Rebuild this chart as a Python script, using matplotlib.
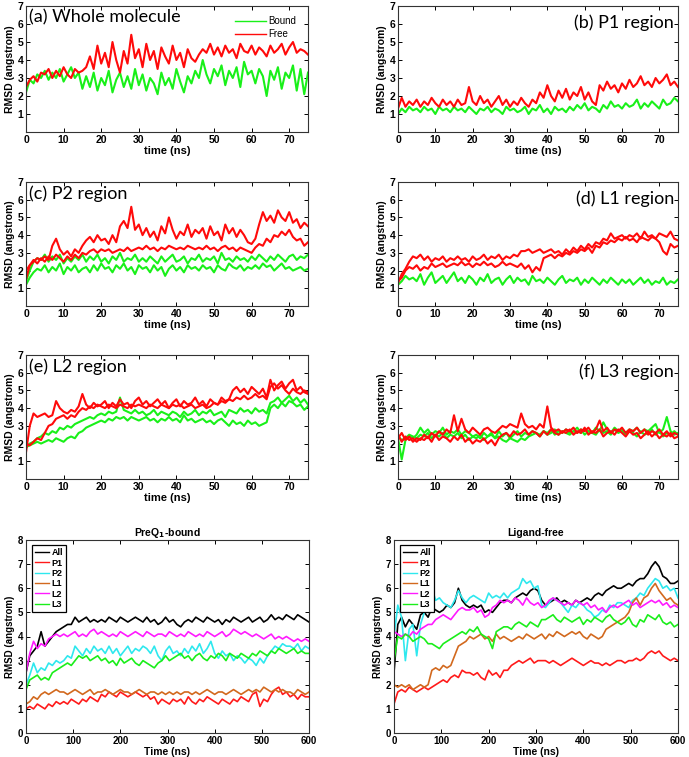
import numpy as np
import matplotlib.pyplot as plt

# time axes
t_short = np.arange(0, 76)        # ns, 1 ns step (panels a-f)
t_long = np.arange(0, 601, 8)     # ns, 8 ns step (bottom panels)

# ---- (a) whole molecule ----
a_bound = [2.2, 2.9, 2.7, 3.2, 3.0,
           3.4, 2.9, 3.3, 3.0, 3.5, 2.8, 3.2, 3.6, 3.0, 3.3, 2.4,
           3.1, 2.5, 3.3, 2.3, 3.0, 2.6, 3.4, 2.2, 2.9, 3.3, 2.5, 3.1, 2.4, 3.5, 2.6,
           3.2, 2.3, 3.0, 2.7, 2.1, 3.3, 2.6, 3.0, 2.4, 3.5, 2.8, 2.2, 3.1, 2.7, 3.4,
           3.0, 4.0, 3.2, 2.7, 3.5, 3.1, 3.7, 2.6, 3.4, 3.0, 3.6, 2.5, 3.9, 3.2, 3.4,
           2.7, 3.5, 3.1, 2.0, 3.4, 2.9, 3.6, 2.4, 3.3, 3.0, 3.7, 2.3, 3.5, 2.1, 3.3]
a_free = [2.5, 2.9, 3.1, 2.8, 3.3,
          3.2, 3.5, 3.0, 3.4, 3.1, 3.6, 3.2, 3.0, 3.5, 3.3, 3.4,
          3.6, 4.2, 3.5, 4.8, 3.8, 4.4, 3.6, 5.0, 4.0, 3.3, 4.5, 3.8, 5.4, 4.1, 4.6,
          3.6, 4.9, 4.0, 4.5, 3.5, 4.7, 4.2, 3.8, 4.8, 4.0, 4.4, 3.6, 4.6, 4.1, 3.9,
          4.3, 4.6, 4.4, 4.9, 4.3, 4.7, 4.2, 4.8, 4.4, 4.6, 4.1, 4.9, 4.5, 4.4, 4.8,
          4.3, 4.7, 4.5, 4.2, 4.8, 4.4, 4.6, 4.9, 4.3, 4.7, 5.0, 4.4, 4.6, 4.5, 4.3]

# ---- (b) P1 ----
b_bound = [1.0, 1.3, 1.1, 1.4, 1.2,
           1.3, 1.1, 1.4, 1.2, 1.3, 1.0, 1.4, 1.2, 1.3, 1.1, 1.4,
           1.2, 1.3, 1.1, 1.4, 1.2, 1.0, 1.3, 1.2, 1.4, 1.1, 1.3, 1.2, 1.0, 1.4, 1.2,
           1.3, 1.1, 1.2, 1.4, 1.0, 1.3, 1.2, 1.5, 1.1, 1.3, 1.0, 1.4, 1.2, 1.3, 1.1,
           1.4, 1.2, 1.5, 1.3, 1.6, 1.2, 1.4, 1.3, 1.1, 1.5, 1.3, 1.7, 1.4, 1.5, 1.3,
           1.6, 1.4, 1.5, 1.8, 1.3, 1.6, 1.4, 1.7, 1.5, 1.3, 1.8, 1.5, 1.6, 1.9, 1.7]
b_free = [1.3, 1.9, 1.4, 1.7, 1.5,
          1.8, 1.4, 1.7, 1.5, 1.9, 1.6, 1.4, 1.8, 1.5, 1.7, 1.4,
          1.8, 1.5, 1.6, 2.5, 1.7, 1.5, 2.0, 1.6, 1.8, 1.4, 1.7, 2.0, 1.5, 1.8, 1.4,
          1.7, 1.5, 1.9, 1.6, 1.4, 1.8, 1.6, 2.2, 1.9, 2.6, 2.0, 1.7, 2.3, 1.9, 2.4,
          1.8, 2.2, 2.0, 2.5, 1.8, 2.2, 1.7, 1.5, 2.6, 2.3, 2.8, 2.4, 2.6, 2.2, 2.7,
          2.4, 2.9, 2.5, 2.7, 3.1, 2.6, 2.8, 2.5, 3.0, 2.7, 2.9, 3.2, 2.6, 2.8, 2.5]

# ---- (c) P2 ----
c_bound1 = [1.4, 2.0, 2.5, 2.7, 2.6,
            2.9, 2.5, 2.8, 2.6, 2.9, 2.4, 2.7, 2.5, 2.8, 2.6, 2.9,
            2.5, 2.8, 2.6, 2.9, 2.5, 2.7, 2.4, 2.8, 2.6, 3.0, 2.5, 2.7, 2.6, 2.9, 2.5,
            2.7, 2.5, 2.8, 2.6, 2.4, 2.8, 2.5, 2.7, 2.9, 2.5, 2.6, 2.8, 2.4, 2.7, 2.6,
            2.9, 2.5, 2.7, 2.6, 2.8, 2.4, 3.0, 2.6, 2.7, 2.5, 2.8, 2.6, 2.7, 2.5, 2.8,
            2.6, 2.9, 2.7, 2.5, 2.8, 2.6, 2.9, 2.7, 2.5, 2.8, 2.9, 2.6, 2.8, 2.7, 2.9]
c_bound2 = [1.2, 1.6, 1.9, 2.1, 2.0,
            2.3, 1.9, 2.2, 2.0, 2.4, 1.8, 2.2, 2.0, 2.3, 1.9, 2.1,
            2.2, 1.9, 2.3, 2.0, 2.4, 2.1, 2.2, 1.9, 2.3, 2.1, 2.4, 2.0, 2.2, 1.8, 2.3,
            2.1, 2.2, 1.9, 2.3, 2.0, 2.2, 1.7, 2.1, 2.3, 2.0, 2.2, 1.9, 2.3, 2.1, 2.2,
            2.0, 2.3, 2.1, 2.2, 1.9, 2.3, 2.1, 2.0, 2.4, 2.2, 2.1, 2.3, 2.0, 2.2, 2.1,
            2.3, 2.1, 2.4, 2.2, 2.3, 2.0, 2.2, 2.4, 2.1, 2.2, 2.0, 2.1, 2.2, 2.0, 2.1]
c_free1 = [1.5, 2.3, 2.5, 2.7, 2.6,
           2.8, 2.6, 3.4, 3.8, 3.2, 2.9, 3.1, 2.8, 3.2, 3.0, 3.4,
           3.7, 3.9, 3.6, 4.0, 3.7, 3.8, 3.5, 4.0, 3.6, 4.5, 4.8, 4.4, 5.6, 4.3, 4.6,
           4.0, 4.4, 3.9, 4.2, 3.7, 4.5, 4.1, 5.0, 4.3, 3.8, 4.2, 4.0, 4.6, 3.9, 4.3,
           4.1, 4.4, 3.8, 4.5, 4.0, 4.2, 3.7, 4.6, 4.1, 4.4, 3.9, 4.3, 4.0, 3.6, 3.5,
           3.8, 4.6, 5.3, 4.8, 5.1, 4.7, 5.4, 5.0, 4.8, 5.3, 4.7, 4.9, 4.4, 4.7, 4.5]
c_free2 = [2.0, 2.3, 2.6, 2.4, 2.7,
           2.5, 2.8, 2.6, 2.9, 2.7, 2.5, 2.8, 2.6, 2.9, 2.7, 3.0,
           2.9, 3.1, 3.2, 3.0, 3.2, 3.1, 3.2, 3.0, 3.1, 3.2, 3.1, 3.3, 3.1, 3.2, 3.3,
           3.2, 3.4, 3.2, 3.3, 3.1, 3.3, 3.2, 3.4, 3.3, 3.2, 3.3, 3.2, 3.4, 3.3, 3.2,
           3.3, 3.2, 3.4, 3.2, 3.3, 3.1, 3.3, 3.4, 3.2, 3.3, 3.1, 3.3, 3.2, 3.1, 3.0,
           3.3, 3.5, 3.4, 3.8, 3.6, 4.0, 3.9, 4.2, 4.0, 4.3, 3.9, 3.7, 3.8, 3.4, 3.6]

# ---- (d) L1 ----
d_bound = [1.2, 1.4, 1.7, 1.5, 1.6,
           1.4, 1.8, 1.2, 1.6, 1.9, 1.3, 1.5, 1.7, 1.3, 1.6, 1.9,
           1.4, 1.6, 1.3, 1.7, 1.5, 1.2, 1.6, 1.4, 1.8, 1.3, 1.5, 1.6, 1.2, 1.5, 1.7,
           1.3, 1.6, 1.4, 1.5, 1.2, 1.7, 1.4, 1.5, 1.3, 1.6, 1.4, 1.2, 1.5, 1.7, 1.3,
           1.5, 1.4, 1.6, 1.2, 1.5, 1.3, 1.6, 1.4, 1.2, 1.5, 1.3, 1.6, 1.4, 1.2, 1.5,
           1.3, 1.5, 1.2, 1.4, 1.6, 1.3, 1.5, 1.2, 1.4, 1.3, 1.6, 1.2, 1.4, 1.3, 1.5]
d_free1 = [1.3, 1.8, 2.1, 2.5, 2.8,
           2.7, 2.9, 2.6, 2.8, 2.5, 2.7, 2.6, 2.8, 2.5, 2.7, 2.6,
           2.8, 2.6, 2.7, 2.5, 2.8, 2.6, 2.7, 2.9, 2.6, 2.8, 2.7, 2.9, 2.6, 2.8, 2.7,
           2.9, 2.8, 3.1, 3.1, 3.2, 3.0, 3.1, 3.2, 3.0, 3.1, 3.2, 3.0, 3.1, 2.9, 3.2,
           3.0, 3.3, 3.1, 3.4, 3.2, 3.5, 3.3, 3.6, 3.5, 3.8, 3.7, 4.1, 3.8, 3.9, 4.0,
           3.8, 4.0, 3.9, 4.1, 3.8, 4.2, 3.9, 4.0, 3.8, 4.1, 4.0, 3.9, 4.2, 3.8, 3.7]
d_free2 = [1.4, 1.6, 2.0, 2.2, 2.1,
           2.3, 2.0, 2.2, 2.1, 2.4, 2.2, 2.3, 2.4, 2.2, 2.3, 2.4,
           2.3, 2.5, 2.3, 2.4, 2.2, 2.4, 2.3, 2.5, 2.3, 2.4, 2.2, 2.3, 2.5, 2.3, 2.4,
           2.3, 2.2, 2.4, 2.1, 2.3, 1.9, 2.2, 2.0, 2.7, 2.8, 2.9, 2.7, 2.9, 2.8, 3.0,
           2.9, 3.1, 3.0, 3.2, 3.1, 3.3, 3.0, 3.4, 3.3, 3.6, 3.5, 3.7, 3.6, 3.8, 3.7,
           3.9, 3.7, 3.8, 3.6, 3.9, 3.8, 3.7, 3.9, 3.8, 3.6, 3.1, 2.9, 3.5, 3.3, 3.4]

# ---- (e) L2 ----
e_bound1 = [1.8, 2.0, 2.1, 2.3, 2.4,
            2.6, 2.5, 2.7, 2.6, 2.9, 2.8, 3.0, 2.9, 3.1, 3.2, 3.3,
            3.4, 3.5, 3.4, 3.6, 3.7, 3.6, 3.8, 3.7, 3.8, 4.6, 3.9, 3.8, 3.7, 3.9, 3.7,
            3.8, 3.6, 3.7, 3.9, 3.6, 3.8, 3.7, 3.6, 3.8, 3.7, 3.5, 3.8, 3.6, 3.7, 3.9,
            3.6, 3.8, 3.7, 3.9, 3.6, 3.7, 3.8, 3.5, 3.9, 3.8, 3.7, 4.0, 3.8, 3.9, 3.7,
            4.0, 3.8, 3.9, 3.7, 4.3, 4.4, 4.6, 4.3, 4.5, 4.7, 4.4, 4.6, 4.3, 4.5, 4.2]
e_bound2 = [1.8, 1.9, 2.0, 2.1, 2.0,
            2.1, 2.2, 2.1, 2.3, 2.2, 2.1, 2.3, 2.4, 2.3, 2.6, 2.7,
            2.9, 3.0, 3.1, 3.2, 3.3, 3.2, 3.4, 3.3, 3.5, 3.4, 3.5, 3.3, 3.5, 3.4, 3.3,
            3.4, 3.5, 3.3, 3.4, 3.2, 3.4, 3.3, 3.5, 3.3, 3.4, 3.2, 3.6, 3.3, 3.4, 3.2,
            3.3, 3.4, 3.2, 3.3, 3.1, 3.3, 3.4, 3.2, 3.0, 3.3, 3.1, 3.2, 3.0, 3.3, 3.1,
            3.2, 3.0, 3.1, 3.2, 4.0, 4.2, 4.0, 4.3, 4.1, 4.4, 4.3, 4.1, 4.2, 3.9, 4.1]
e_free1 = [1.5, 3.0, 3.7, 3.5, 3.6,
           3.7, 3.5, 3.6, 4.4, 4.0, 3.8, 3.7, 3.9, 3.8, 4.1, 4.8,
           4.2, 4.0, 4.3, 4.1, 4.2, 4.4, 4.0, 4.3, 4.1, 4.5, 4.2, 4.3, 4.0, 4.4, 4.6,
           4.2, 4.4, 4.1, 4.3, 4.5, 4.2, 4.4, 4.0, 4.3, 4.5, 4.1, 4.4, 4.2, 4.3, 4.6,
           4.2, 4.4, 4.1, 4.5, 4.3, 4.2, 4.6, 4.4, 4.5, 5.0, 5.2, 4.9, 5.1, 4.8, 5.2,
           5.0, 4.8, 5.1, 4.6, 5.6, 5.0, 5.3, 5.5, 5.1, 5.4, 5.6, 5.0, 5.2, 4.9, 4.8]
e_free2 = [2.0, 1.9, 2.1, 2.3, 2.2,
           2.6, 3.0, 3.1, 3.4, 3.5, 3.6, 3.4, 3.6, 3.5, 3.8, 4.0,
           3.9, 4.1, 4.0, 4.2, 4.1, 4.0, 4.2, 4.1, 4.0, 4.2, 4.1, 4.0, 4.2, 4.1, 4.2,
           4.1, 4.0, 4.2, 4.1, 4.0, 4.2, 4.1, 4.0, 4.2, 4.1, 4.2, 4.0, 4.1, 4.2, 4.0,
           4.1, 4.2, 4.0, 4.1, 4.3, 4.2, 4.4, 4.3, 4.5, 4.4, 4.6, 4.5, 4.7, 4.5, 4.6,
           4.8, 4.6, 4.7, 4.5, 5.2, 5.4, 5.1, 5.3, 5.0, 4.8, 5.1, 4.9, 4.8, 5.0, 4.9]

# ---- (f) L3 ----
f_bound1 = [2.3, 1.1, 2.2, 2.4, 2.3,
            2.5, 2.9, 2.6, 2.8, 2.5, 2.7, 2.6, 2.9, 2.5, 2.7, 2.6,
            2.8, 2.5, 2.7, 2.6, 2.4, 2.5, 2.3, 2.6, 2.4, 2.5, 2.3, 2.4, 2.2, 2.1, 2.3,
            2.2, 2.1, 2.3, 2.2, 2.4, 2.5, 2.6, 2.5, 2.7, 2.6, 2.8, 2.5, 2.7, 2.6, 2.8,
            2.6, 2.7, 2.9, 2.6, 2.8, 2.7, 2.6, 2.9, 2.7, 3.2, 2.8, 2.6, 2.9, 2.7, 2.8,
            2.6, 2.8, 2.7, 2.9, 2.6, 2.8, 2.7, 2.9, 3.1, 2.6, 2.8, 3.5, 2.7, 2.5, 2.6]
f_bound2 = [2.4, 2.2, 2.3, 2.5, 2.4,
            2.3, 2.5, 2.4, 2.6, 2.3, 2.5, 2.4, 2.6, 2.3, 2.5, 2.4,
            2.6, 2.3, 2.5, 2.2, 2.4, 2.3, 2.5, 2.2, 2.4, 2.6, 2.3, 2.7, 2.4, 2.6, 2.3,
            2.5, 2.7, 2.4, 2.6, 2.5, 2.7, 2.6, 2.4, 2.7, 2.5, 2.6, 2.8, 2.5, 2.7, 2.6,
            2.5, 2.7, 2.6, 2.8, 2.5, 2.7, 2.6, 2.5, 2.8, 2.6, 2.7, 2.5, 2.8, 2.6, 2.7,
            2.5, 2.7, 2.6, 2.4, 2.7, 2.5, 2.6, 2.8, 2.5, 2.7, 2.4, 2.6, 2.5, 2.7, 2.5]
f_free1 = [2.3, 2.6, 2.2, 2.4, 2.1,
           2.3, 2.2, 2.5, 2.3, 2.6, 2.4, 2.7, 2.5, 2.8, 2.6, 3.6,
           2.7, 3.4, 2.8, 2.6, 2.9, 2.7, 2.5, 2.8, 2.9, 2.7, 2.6, 2.8, 3.0, 2.9, 3.1,
           3.0, 2.9, 3.7, 3.1, 2.9, 3.0, 2.8, 3.1, 2.9, 4.1, 2.9, 2.7, 2.8, 2.6, 2.8,
           2.7, 2.9, 2.6, 2.8, 2.7, 2.9, 2.6, 2.8, 3.3, 2.7, 2.9, 2.6, 2.8, 2.7, 2.9,
           2.6, 2.8, 2.7, 2.9, 2.6, 2.8, 2.5, 2.7, 2.6, 2.8, 2.5, 2.7, 2.4, 2.6, 2.5]
f_free2 = [2.5, 2.1, 2.4, 2.2, 2.3,
           2.1, 2.3, 2.2, 2.4, 2.1, 2.5, 2.2, 2.4, 2.3, 2.1, 2.4,
           2.2, 2.5, 2.1, 2.3, 2.0, 2.2, 2.1, 2.3, 2.0, 2.2, 1.9, 2.3, 2.5, 2.6, 2.4,
           2.7, 2.5, 2.6, 2.8, 2.5, 2.7, 2.6, 2.4, 2.7, 2.5, 2.8, 2.6, 2.5, 2.7, 2.6,
           2.8, 2.5, 2.7, 2.6, 2.9, 2.5, 2.7, 2.6, 2.8, 2.4, 2.6, 2.7, 2.5, 2.8, 2.6,
           2.4, 2.7, 2.5, 2.6, 2.3, 2.5, 2.7, 2.4, 2.6, 2.3, 2.5, 2.4, 2.6, 2.3, 2.4]

# ---- bottom: PreQ1-bound, 600 ns ----
bd_all = [2.5, 3.2, 3.4, 3.6, 4.2, 3.6, 3.8, 4.0, 4.2, 4.3,
          4.4, 4.5, 4.5, 4.8, 4.6, 4.7, 4.8, 4.6, 4.7, 4.6,
          4.7, 4.6, 4.8, 4.7, 4.6, 4.8, 4.7, 4.6, 4.7, 4.8,
          4.7, 4.6, 4.8, 4.6, 4.7, 4.5, 4.6, 4.8, 4.6, 4.7,
          4.5, 4.4, 4.6, 4.7, 4.6, 4.8, 4.7, 4.6, 4.8, 4.7,
          4.6, 4.7, 4.5, 4.7, 4.6, 4.8, 4.7, 4.6, 4.7, 4.8,
          4.6, 4.7, 4.8, 4.6, 4.7, 4.9, 4.7, 4.8, 4.7, 4.9,
          4.8, 4.7, 4.9, 4.8, 4.7, 4.6]
bd_p1 = [1.0, 1.1, 1.0, 1.2, 1.1, 1.0, 1.2, 1.1, 1.3, 1.2,
         1.3, 1.2, 1.4, 1.3, 1.2, 1.4, 1.3, 1.5, 1.4, 1.3,
         1.6, 1.5, 1.7, 1.6, 1.5, 1.7, 1.6, 1.5, 1.6, 1.7,
         1.6, 1.5, 1.6, 1.4, 1.5, 1.2, 1.4, 1.3, 1.2, 1.4,
         1.3, 1.4, 1.2, 1.5, 1.3, 1.2, 1.4, 1.3, 1.5, 1.4,
         1.3, 1.2, 1.4, 1.3, 1.2, 1.4, 1.3, 1.5, 1.4, 1.3,
         1.6, 1.7, 1.1, 1.4, 1.3, 1.6, 1.8, 1.9, 1.6, 1.7,
         1.5, 1.6, 1.4, 1.6, 1.5, 1.5]
bd_p2 = [2.0, 2.4, 2.9, 2.5, 2.7, 2.6, 2.9, 2.8, 3.0, 2.9,
         3.0, 3.2, 3.1, 3.6, 3.4, 3.2, 3.5, 3.3, 3.6, 3.4,
         3.5, 3.3, 3.6, 3.3, 3.5, 3.2, 3.4, 3.6, 3.3, 3.5,
         3.4, 3.6, 3.5, 3.3, 3.6, 3.2, 3.0, 3.4, 3.6, 3.3,
         3.4, 3.2, 3.5, 3.3, 3.6, 3.4, 3.7, 3.3, 3.5, 3.8,
         3.3, 3.1, 3.4, 3.2, 3.3, 3.0, 3.2, 3.1, 2.9, 3.1,
         3.0, 2.8, 3.1, 2.9, 3.2, 3.4, 3.6, 3.5, 3.7, 3.6,
         3.6, 3.5, 3.7, 3.4, 3.6, 3.5]
bd_l1 = [1.2, 1.3, 1.5, 1.4, 1.6, 1.7, 1.6, 1.7, 1.8, 1.7,
         1.7, 1.6, 1.7, 1.8, 1.7, 1.6, 1.7, 1.8, 1.6, 1.7,
         1.7, 1.8, 1.7, 1.6, 1.7, 1.8, 1.7, 1.7, 1.6, 1.7,
         1.8, 1.7, 1.6, 1.7, 1.7, 1.6, 1.7, 1.6, 1.7, 1.6,
         1.7, 1.6, 1.7, 1.7, 1.6, 1.7, 1.6, 1.7, 1.8, 1.7,
         1.6, 1.7, 1.7, 1.6, 1.7, 1.8, 1.7, 1.6, 1.7, 1.8,
         1.7, 1.8, 1.7, 1.9, 1.8, 1.7, 1.8, 1.7, 1.8, 1.7,
         1.7, 1.6, 1.8, 1.7, 1.6, 1.7]
bd_l2 = [2.5, 3.3, 3.8, 3.5, 3.7, 3.6, 3.9, 4.0, 4.1, 4.0,
         4.1, 4.0, 4.1, 4.2, 4.0, 4.1, 4.0, 4.2, 4.3, 4.1,
         4.2, 4.1, 4.0, 4.1, 4.0, 4.2, 4.1, 4.0, 4.1, 4.2,
         4.1, 4.0, 4.2, 4.1, 4.0, 4.1, 4.1, 4.0, 4.2, 4.1,
         4.0, 4.1, 4.0, 4.2, 4.1, 4.0, 4.1, 4.0, 4.2, 4.1,
         4.0, 4.1, 4.2, 4.0, 4.1, 4.3, 4.2, 4.1, 4.2, 4.1,
         4.0, 4.1, 4.0, 3.9, 4.0, 4.1, 3.9, 4.0, 3.9, 4.0,
         3.9, 3.8, 3.9, 3.8, 3.9, 3.8]
bd_l3 = [1.8, 2.2, 2.3, 2.4, 2.2, 2.3, 2.2, 2.5, 2.6, 2.7,
         2.8, 2.9, 2.8, 3.0, 3.2, 3.1, 3.2, 3.0, 3.1, 3.2,
         3.0, 3.1, 2.9, 3.0, 2.8, 3.1, 2.9, 3.0, 3.1, 2.9,
         2.8, 3.0, 2.9, 2.8, 2.7, 2.9, 3.0, 3.2, 3.0, 3.1,
         3.2, 3.3, 3.1, 3.2, 3.0, 3.2, 3.3, 3.1, 3.0, 3.2,
         3.1, 3.3, 3.2, 3.0, 3.3, 3.2, 3.1, 3.3, 3.2, 3.1,
         3.3, 3.2, 3.4, 3.3, 3.2, 3.4, 3.3, 3.5, 3.4, 3.3,
         3.4, 3.5, 3.3, 3.4, 3.3, 3.3]

# ---- bottom: ligand-free, 600 ns ----
fr_all = [2.5, 4.5, 4.8, 4.4, 4.7, 4.5, 4.3, 4.9, 5.0, 4.8,
          5.2, 5.1, 5.0, 5.1, 5.3, 5.2, 5.4, 6.0, 5.5, 5.3,
          5.2, 5.3, 5.2, 5.3, 5.0, 5.1, 5.0, 5.2, 5.4, 5.5,
          5.5, 5.4, 5.6, 5.7, 5.8, 5.7, 5.9, 6.0, 5.9, 5.5,
          5.3, 5.4, 5.5, 5.6, 5.4, 5.5, 5.4, 5.3, 5.5, 5.4,
          5.5, 5.6, 5.5, 5.7, 5.8, 5.7, 5.9, 6.0, 6.1, 6.0,
          6.0, 6.1, 6.2, 6.1, 6.3, 6.4, 6.4, 6.6, 6.9, 7.1,
          6.9, 6.5, 6.4, 6.2, 6.2, 6.3]
fr_p1 = [1.2, 1.7, 1.8, 1.7, 1.9, 1.8, 1.7, 1.8, 1.9, 1.8,
         1.9, 2.0, 2.1, 2.2, 2.1, 2.3, 2.4, 2.3, 2.6, 2.5,
         2.5, 2.4, 2.5, 2.3, 2.2, 2.6, 2.4, 2.5, 2.3, 2.6,
         2.6, 2.8, 2.9, 3.0, 2.9, 3.0, 3.1, 2.9, 3.0, 3.0,
         3.0, 2.9, 3.0, 2.9, 2.8, 2.9, 3.0, 3.1, 3.0, 2.9,
         2.8, 2.9, 3.0, 2.9, 2.9, 2.8, 2.9, 2.8, 2.9, 3.0,
         3.0, 2.9, 3.0, 3.0, 3.1, 3.0, 3.1, 3.3, 3.4, 3.3,
         3.4, 3.2, 3.1, 3.0, 3.1, 3.0]
fr_p2 = [4.0, 5.3, 4.8, 3.0, 4.3, 4.5, 3.2, 4.5, 5.0, 5.8,
         6.0, 5.5, 5.6, 5.4, 5.3, 5.2, 5.5, 5.9, 5.6, 5.4,
         5.6, 5.7, 5.6, 5.5, 5.4, 5.8, 5.6, 5.7, 5.6, 5.8,
         5.6, 5.8, 5.9, 6.0, 6.4, 6.2, 6.3, 6.0, 6.1, 5.3,
         5.2, 5.4, 5.6, 5.5, 5.4, 5.2, 5.0, 5.3, 5.2, 5.4,
         5.3, 5.1, 5.0, 4.8, 4.9, 5.1, 5.0, 5.3, 5.2, 5.4,
         5.4, 5.3, 5.2, 5.5, 5.6, 5.8, 5.7, 6.0, 6.2, 6.4,
         6.3, 6.0, 6.1, 5.9, 6.0, 5.6]
fr_l1 = [2.0, 1.9, 2.0, 1.9, 2.0, 1.8, 1.9, 2.0, 1.9, 2.0,
         2.6, 2.7, 2.6, 2.8, 2.7, 2.8, 3.2, 3.6, 3.7, 3.8,
         4.0, 3.9, 4.0, 4.1, 3.9, 4.0, 3.8, 4.1, 3.9, 4.0,
         3.9, 3.8, 3.9, 4.0, 3.9, 4.1, 4.0, 3.9, 4.0, 4.1,
         3.9, 4.1, 4.0, 4.2, 4.1, 4.0, 4.1, 4.2, 4.1, 4.2,
         4.0, 3.9, 4.1, 4.0, 3.9, 4.0, 4.3, 4.4, 4.5, 4.6,
         4.7, 4.8, 5.0, 5.4, 5.6, 5.3, 5.6, 5.7, 6.0, 6.2,
         5.9, 5.7, 5.5, 5.6, 5.4, 5.3]
fr_l2 = [4.2, 4.1, 4.0, 4.1, 4.0, 4.2, 4.1, 4.3, 4.4, 4.5,
         4.5, 4.7, 4.8, 4.9, 4.8, 4.7, 4.9, 5.1, 5.2, 5.1,
         5.1, 5.2, 5.0, 5.1, 4.8, 4.9, 5.2, 5.3, 5.5, 5.4,
         5.5, 5.4, 5.6, 5.5, 5.3, 5.6, 5.4, 5.3, 5.4, 5.2,
         5.3, 5.5, 5.6, 5.5, 5.4, 5.3, 5.4, 5.3, 5.5, 5.4,
         5.3, 5.4, 5.2, 5.3, 5.1, 5.2, 5.0, 5.2, 5.3, 5.2,
         5.3, 5.4, 5.5, 5.3, 5.4, 5.2, 5.3, 5.4, 5.5, 5.4,
         5.5, 5.3, 5.4, 5.2, 5.3, 5.2]
fr_l3 = [3.0, 4.0, 3.9, 4.1, 4.0, 3.8, 3.9, 4.0, 3.9, 3.7,
         3.7, 3.6, 3.5, 3.7, 3.8, 3.9, 4.0, 4.1, 4.2, 4.1,
         4.3, 4.2, 4.4, 4.1, 4.0, 3.9, 3.5, 4.2, 4.3, 4.4,
         4.4, 4.3, 4.5, 4.6, 4.5, 4.4, 4.6, 4.5, 4.4, 4.7,
         4.7, 4.8, 4.9, 4.7, 4.6, 4.8, 4.7, 4.6, 4.7, 4.8,
         4.5, 4.7, 4.6, 4.8, 4.7, 4.6, 4.8, 4.9, 4.7, 4.6,
         4.5, 4.6, 4.8, 4.5, 4.4, 4.7, 4.6, 4.9, 4.8, 4.7,
         4.9, 4.6, 4.5, 4.6, 4.4, 4.5]

region_labels = ["(a) Whole molecule", "(b) P1 region", "(c) P2 region",
                 "(d) L1 region", "(e) L2 region", "(f) L3 region"]
series_names = ["All", "P1", "P2", "L1", "L2", "L3"]

GREEN = "#19f019"
RED = "#ff0a0a"
series_colors = ["#000000", "#ff1a1a", "#2ee8ee", "#d2691e", "#ff1aff", "#1aee1a"]

plt.rcParams["font.family"] = ["Liberation Sans", "DejaVu Sans"]

fig = plt.figure(figsize=(6.89, 7.57), dpi=100)
W, H = 689.0, 757.0


def add_ax(left, top, right, bottom):
    return fig.add_axes([left / W, 1 - bottom / H, (right - left) / W, (bottom - top) / H])


def style(ax, xmax, xticks, yticks, ymax, xlabel, fs):
    ax.set_xlim(0, xmax)
    ax.set_ylim(0, ymax)
    ax.set_xticks(xticks)
    ax.set_yticks(yticks)
    ax.tick_params(direction="in", top=True, right=True, length=3, width=0.7,
                   labelsize=fs, pad=2)
    for lab in ax.get_xticklabels() + ax.get_yticklabels():
        lab.set_fontweight("bold")
    for sp in ax.spines.values():
        sp.set_linewidth(0.8)
        sp.set_color("#333333")
    ax.set_xlabel(xlabel, fontweight="bold", fontsize=fs + 0.5, labelpad=1)
    ax.set_ylabel("RMSD (angstrom)", fontweight="bold", fontsize=fs, labelpad=2)


# top grid of six panels: (left, top, right, bottom) in pixels
boxes = [(26, 6, 308, 132), (398, 6, 678, 132),
         (26, 182, 308, 306), (398, 182, 678, 306),
         (26, 355, 308, 479), (398, 355, 678, 479)]
bound_sets = [[a_bound], [b_bound], [c_bound1, c_bound2], [d_bound],
              [e_bound1, e_bound2], [f_bound1, f_bound2]]
free_sets = [[a_free], [b_free], [c_free1, c_free2], [d_free1, d_free2],
             [e_free1, e_free2], [f_free1, f_free2]]

for i, box in enumerate(boxes):
    ax = add_ax(*box)
    for j, ys in enumerate(bound_sets[i]):
        ax.plot(t_short, ys, color=GREEN, lw=1.5, label="Bound" if j == 0 else None)
    for j, ys in enumerate(free_sets[i]):
        ax.plot(t_short, ys, color=RED, lw=1.5, label="Free" if j == 0 else None)
    style(ax, 75, range(0, 71, 10), range(1, 8), 7, "time (ns)", 7.5)
    if i % 2 == 0:
        ax.text(0.01, 0.97, region_labels[i], transform=ax.transAxes, ha="left", va="top",
                fontsize=13, family="Lato")
    else:
        ax.text(0.985, 0.93, region_labels[i], transform=ax.transAxes, ha="right", va="top",
                fontsize=13, family="Lato")
    if i == 0:
        leg = ax.legend(loc="upper right", bbox_to_anchor=(0.99, 0.99), frameon=False,
                        fontsize=7, handlelength=3.2, handletextpad=0.3, labelspacing=0.3)
        for line in leg.get_lines():
            line.set_linewidth(1.0)

# bottom panels
bound_series = [bd_all, bd_p1, bd_p2, bd_l1, bd_l2, bd_l3]
free_series = [fr_all, fr_p1, fr_p2, fr_l1, fr_l2, fr_l3]
for box, data, title in [((26, 540, 309, 733), bound_series, r"PreQ$_\mathbf{1}$-bound"),
                         ((394, 540, 678, 733), free_series, "Ligand-free")]:
    ax = add_ax(*box)
    for name, ys, col in zip(series_names, data, series_colors):
        ax.plot(t_long, ys, color=col, lw=1.2, label=name)
    style(ax, 600, range(0, 601, 100), range(0, 9), 8, "Time (ns)", 7)
    ax.set_title(title, fontweight="bold", fontsize=7.5, pad=3)
    leg = ax.legend(loc="upper left", bbox_to_anchor=(0.005, 0.995), fontsize=6.5,
                    handlelength=1.6, handletextpad=0.3, labelspacing=0.15,
                    borderpad=0.3, fancybox=False, framealpha=1)
    leg.get_frame().set_edgecolor("black")
    leg.get_frame().set_linewidth(0.9)
    for line in leg.get_lines():
        line.set_linewidth(1.0)
    for txt in leg.get_texts():
        txt.set_fontweight("bold")

fig.savefig("out.png", dpi=100)
